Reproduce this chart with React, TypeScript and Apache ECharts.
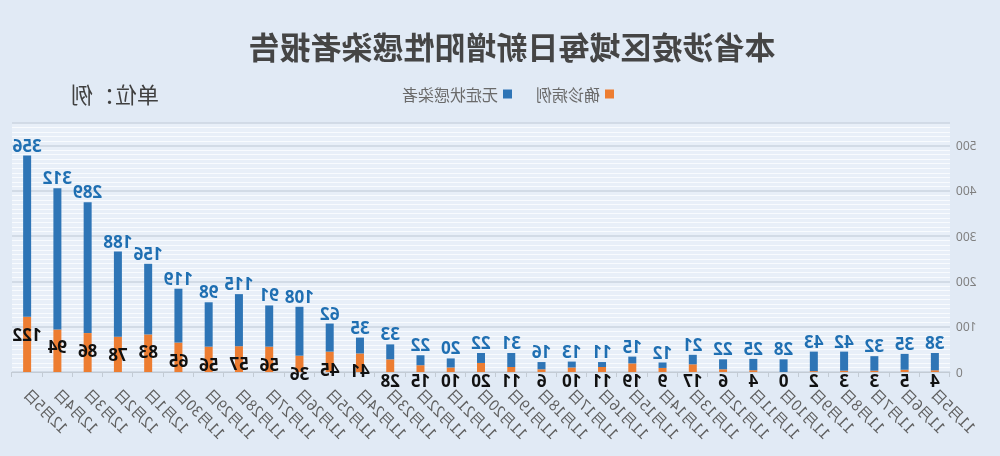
import { useEffect, useRef } from "react";
import * as echarts from "echarts";

// ── Data (left to right: 11月5日 → 12月5日) ─────────────────────────────────
const DATES = [
  "11月5日", "11月6日", "11月7日", "11月8日", "11月9日", "11月10日", "11月11日", "11月12日",
  "11月13日", "11月14日", "11月15日", "11月16日", "11月17日", "11月18日", "11月19日", "11月20日",
  "11月21日", "11月22日", "11月23日", "11月24日", "11月25日", "11月26日", "11月27日", "11月28日",
  "11月29日", "11月30日", "12月1日", "12月2日", "12月3日", "12月4日", "12月5日",
];
const CONFIRMED = [4, 5, 3, 3, 2, 0, 4, 6, 17, 9, 19, 11, 10, 6, 11, 20, 10, 15, 28, 41, 45, 36, 56, 57, 56, 65, 83, 78, 86, 94, 122];
const ASYMPTOMATIC = [38, 35, 32, 42, 43, 28, 25, 22, 21, 12, 15, 11, 13, 16, 31, 22, 20, 22, 33, 35, 62, 108, 91, 115, 98, 119, 156, 188, 289, 312, 356];
const Y_TICKS = [0, 100, 200, 300, 400, 500];

const TITLE = "本省涉疫区域每日新增阳性感染者报告";
const UNIT = "单位：例";

const FONT = "'Noto Sans', 'Noto Sans CJK SC', sans-serif";
const CJK = "'Noto Sans CJK SC', sans-serif";
const ORANGE = "#ed7d31";
const BLUE = "#2e75b6";

export default function App() {
  const ref = useRef<HTMLDivElement>(null);

  useEffect(() => {
    const el = ref.current;
    if (!el) return;
    const chart = echarts.init(el, null, { renderer: "svg" });
    chart.setOption({
      animation: false,
      backgroundColor: "#e1eaf5",
      textStyle: { fontFamily: FONT },
      graphic: [
        {
          type: "text",
          x: 488,
          y: 45,
          style: {
            text: TITLE,
            fill: "#454545",
            font: `bold 31px ${CJK}`,
            textAlign: "center",
            textVerticalAlign: "middle",
          },
        },
        {
          type: "text",
          x: 841,
          y: 93,
          style: {
            text: UNIT,
            fill: "#404040",
            font: `22px ${CJK}`,
            textAlign: "left",
            textVerticalAlign: "middle",
          },
        },
      ],
      legend: {
        left: 381,
        top: 81,
        icon: "rect",
        itemWidth: 9,
        itemHeight: 9,
        itemGap: 24,
        textStyle: { color: "#6a6a6a", fontSize: 16, fontFamily: CJK },
        data: ["确诊病例", "无症状感染者"],
      },
      grid: {
        left: 50,
        right: 12,
        top: 123,
        bottom: 84,
        show: true,
        backgroundColor: "#e8eff8",
        borderWidth: 0,
      },
      xAxis: {
        type: "category",
        data: DATES,
        axisLine: { lineStyle: { color: "#c3cbd4" } },
        axisTick: { show: true, length: 5, lineStyle: { color: "#c3cbd4" } },
        axisLabel: {
          interval: 0,
          rotate: 45,
          color: "#5f5f5f",
          fontSize: 15,
          margin: 19,
          fontFamily: CJK,
        },
      },
      yAxis: {
        type: "value",
        min: Y_TICKS[0],
        max: 550,
        interval: 100,
        axisLine: { show: false },
        axisTick: { show: false },
        axisLabel: {
          color: "#808080",
          fontSize: 12,
          margin: 6,
          showMaxLabel: false,
        },
        splitLine: { lineStyle: { color: "#cbd5e0", width: 1.5 } },
        minorTick: { show: false, splitNumber: 10 },
        minorSplitLine: { show: true, lineStyle: { color: "#f8fbfe", width: 1 } },
      },
      series: [
        {
          name: "确诊病例",
          type: "bar",
          stack: "total",
          barWidth: 8,
          itemStyle: { color: ORANGE },
          label: {
            show: true,
            color: "#111",
            fontWeight: "bold",
            fontSize: 17,
          },
          data: CONFIRMED.map((v) => ({
            value: v,
            label: v >= 30 ? { position: "insideTop", offset: [0, 4] } : { position: "bottom", distance: 0 },
          })),
        },
        {
          name: "无症状感染者",
          type: "bar",
          stack: "total",
          barWidth: 8,
          itemStyle: { color: BLUE },
          label: {
            show: true,
            position: "top",
            distance: 2,
            color: "#1f6fb2",
            fontWeight: "bold",
            fontSize: 17,
          },
          data: ASYMPTOMATIC,
        },
      ],
    });
    return () => chart.dispose();
  }, []);

  return (
    <div
      ref={ref}
      style={{
        position: "fixed",
        left: 0,
        top: 0,
        width: 1000,
        height: 456,
        transform: "scaleX(-1)",
      }}
    />
  );
}
